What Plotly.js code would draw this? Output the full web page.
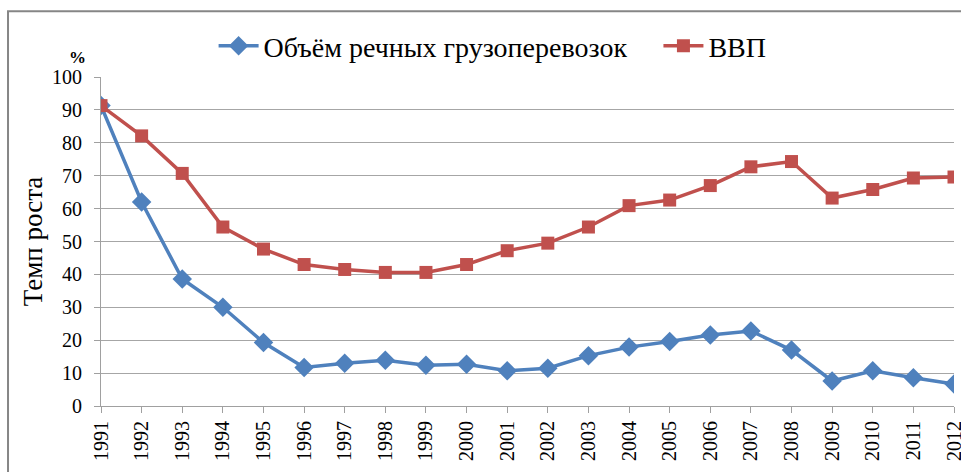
<!DOCTYPE html>
<html><head><meta charset="utf-8">
<script src="https://cdn.plot.ly/plotly-3.0.1.min.js"></script>
<style>html,body{margin:0;padding:0;background:#fff;}#chart{width:961px;height:472px;}</style>
</head><body><div id="chart"></div>
<script>
const years = ['1991','1992','1993','1994','1995','1996','1997','1998','1999','2000','2001','2002','2003','2004','2005','2006','2007','2008','2009','2010','2011','2012'];
const riverFreight = [91.3,62.0,38.6,30.0,19.3,11.7,13.0,13.9,12.4,12.7,10.7,11.5,15.3,17.9,19.6,21.6,22.8,17.0,7.6,10.7,8.6,6.7];
const gdp = [91.3,82.1,70.7,54.4,47.7,43.0,41.5,40.6,40.6,43.0,47.2,49.5,54.4,60.9,62.6,67.0,72.7,74.3,63.2,65.8,69.3,69.6];
const seriesNames = ['Объём речных грузоперевозок','ВВП'];
const yTitle = 'Темп роста';
const unitLabel = '%';

const font = "Liberation Serif";
const traces = [
  {x: years, y: riverFreight, name: seriesNames[0], type:'scatter', mode:'lines+markers',
   line:{color:'#4F81BD', width:3.5}, marker:{symbol:'diamond', size:15, color:'#4F81BD'}, legend:'legend'},
  {x: years, y: gdp, name: seriesNames[1], type:'scatter', mode:'lines+markers',
   line:{color:'#C0504D', width:3.5}, marker:{symbol:'square', size:13, color:'#C0504D'}, legend:'legend2'}
];
const legendFont = {family:font, size:28, color:'#000'};
const layout = {
  width:961, height:472,
  margin:{l:101, r:7, t:77, b:66},
  paper_bgcolor:'#fff', plot_bgcolor:'#fff',
  font:{family:font, color:'#000', size:20},
  showlegend:true,
  legend:{orientation:'h', x:0.132, xanchor:'left', y:1.094, yanchor:'middle',
          font:legendFont, itemwidth:40, bgcolor:'rgba(0,0,0,0)'},
  legend2:{orientation:'h', x:0.6535, xanchor:'left', y:1.094, yanchor:'middle',
          font:legendFont, itemwidth:40, bgcolor:'rgba(0,0,0,0)'},
  xaxis:{type:'category', range:[0,21], showgrid:false, zeroline:false,
         showline:true, linecolor:'#A0A0A0', linewidth:1,
         ticks:'outside', ticklen:6, tickcolor:'#A0A0A0', tickangle:-90,
         tickfont:{family:font, size:20, color:'#000'}},
  yaxis:{range:[0,100], dtick:10, showgrid:true, gridcolor:'#A6A6A6', gridwidth:1,
         zeroline:false, showline:true, linecolor:'#A0A0A0', linewidth:1,
         ticks:'outside', ticklen:6, tickcolor:'#A0A0A0', ticklabelstandoff:8,
         tickfont:{family:font, size:20, color:'#000'}},
  annotations:[
    {text:yTitle, xref:'paper', yref:'paper', x:-0.08, y:0.5, textangle:-90,
     showarrow:false, font:{family:font, size:27}, xanchor:'center', yanchor:'middle'},
    {text:'<b>'+unitLabel+'</b>', xref:'paper', yref:'paper', x:-0.027, y:1.06,
     showarrow:false, font:{family:font, size:17}, xanchor:'center', yanchor:'middle'}
  ],
  shapes:[
    {type:'rect', xref:'paper', yref:'paper', x0:-0.109, x1:1.2, y0:-0.5, y1:1.2,
     line:{color:'#868686', width:2}, fillcolor:'rgba(0,0,0,0)', layer:'below'}
  ]
};
Plotly.newPlot('chart', traces, layout, {displayModeBar:false, staticPlot:true});
</script></body></html>
